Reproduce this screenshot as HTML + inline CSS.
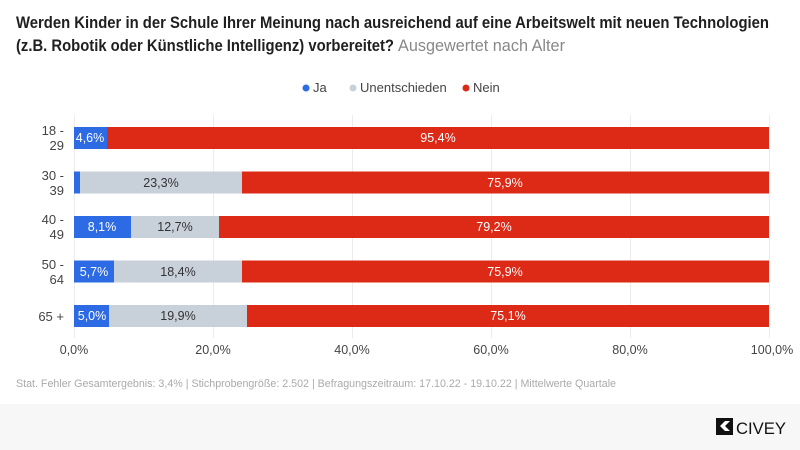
<!DOCTYPE html>
<html><head><meta charset="utf-8"><style>
body{margin:0;background:#fff}
svg{display:block;font-family:"Liberation Sans",sans-serif}
</style></head><body>
<svg width="800" height="450" xmlns="http://www.w3.org/2000/svg">
<rect width="800" height="450" fill="#fff"/>
<rect x="0" y="404" width="800" height="46" fill="#f7f7f7"/>
<text x="16" y="28" font-size="17" font-weight="bold" fill="#1f1f1f" textLength="753" lengthAdjust="spacingAndGlyphs">Werden Kinder in der Schule Ihrer Meinung nach ausreichend auf eine Arbeitswelt mit neuen Technologien</text>
<text x="16" y="51" font-size="17" fill="#1f1f1f"><tspan font-weight="bold" textLength="378" lengthAdjust="spacingAndGlyphs">(z.B. Robotik oder Künstliche Intelligenz) vorbereitet?</tspan><tspan x="398" fill="#888" textLength="167" lengthAdjust="spacingAndGlyphs">Ausgewertet nach Alter</tspan></text>
<g font-size="13" fill="#444">
<circle cx="306" cy="88" r="3.5" fill="#2d6be4"/><text x="313" y="92">Ja</text>
<circle cx="353" cy="88" r="3.5" fill="#c8d0da"/><text x="360" y="92">Unentschieden</text>
<circle cx="466" cy="88" r="3.5" fill="#dc2a17"/><text x="473" y="92">Nein</text>
</g>
<g stroke="#ececec" stroke-width="1">
<line x1="74.5" y1="115" x2="74.5" y2="338"/><line x1="213.5" y1="115" x2="213.5" y2="338"/><line x1="352.5" y1="115" x2="352.5" y2="338"/><line x1="491.5" y1="115" x2="491.5" y2="338"/><line x1="630.5" y1="115" x2="630.5" y2="338"/><line x1="769.5" y1="115" x2="769.5" y2="338"/>
</g>
<g font-size="12.5">
<rect x="74" y="127" width="33" height="22" fill="#2d6be4"/><rect x="107" y="127" width="662" height="22" fill="#dc2a17"/>
<text x="90" y="142" fill="#fff" text-anchor="middle">4,6%</text><text x="438" y="142" fill="#fff" text-anchor="middle">95,4%</text>
<rect x="74" y="171.5" width="6" height="22" fill="#2d6be4"/><rect x="80" y="171.5" width="162" height="22" fill="#c8d0da"/><rect x="242" y="171.5" width="527" height="22" fill="#dc2a17"/>
<text x="161" y="187" fill="#333" text-anchor="middle">23,3%</text><text x="505" y="187" fill="#fff" text-anchor="middle">75,9%</text>
<rect x="74" y="216" width="57" height="22" fill="#2d6be4"/><rect x="131" y="216" width="88" height="22" fill="#c8d0da"/><rect x="219" y="216" width="550" height="22" fill="#dc2a17"/>
<text x="102" y="231" fill="#fff" text-anchor="middle">8,1%</text><text x="175" y="231" fill="#333" text-anchor="middle">12,7%</text><text x="494" y="231" fill="#fff" text-anchor="middle">79,2%</text>
<rect x="74" y="260.5" width="40" height="22" fill="#2d6be4"/><rect x="114" y="260.5" width="128" height="22" fill="#c8d0da"/><rect x="242" y="260.5" width="527" height="22" fill="#dc2a17"/>
<text x="94" y="276" fill="#fff" text-anchor="middle">5,7%</text><text x="178" y="276" fill="#333" text-anchor="middle">18,4%</text><text x="505" y="276" fill="#fff" text-anchor="middle">75,9%</text>
<rect x="74" y="305" width="35" height="22" fill="#2d6be4"/><rect x="109" y="305" width="138" height="22" fill="#c8d0da"/><rect x="247" y="305" width="522" height="22" fill="#dc2a17"/>
<text x="92" y="320" fill="#fff" text-anchor="middle">5,0%</text><text x="178" y="320" fill="#333" text-anchor="middle">19,9%</text><text x="508" y="320" fill="#fff" text-anchor="middle">75,1%</text>
</g>
<g font-size="13" fill="#444" text-anchor="end">
<text x="64" y="135">18 -</text><text x="64" y="150">29</text>
<text x="64" y="180">30 -</text><text x="64" y="195">39</text>
<text x="64" y="224">40 -</text><text x="64" y="239">49</text>
<text x="64" y="269">50 -</text><text x="64" y="284">64</text>
<text x="64" y="321">65 +</text>
</g>
<g font-size="12.5" fill="#444" text-anchor="middle">
<text x="74" y="354">0,0%</text><text x="213" y="354">20,0%</text><text x="352" y="354">40,0%</text><text x="491" y="354">60,0%</text><text x="630" y="354">80,0%</text><text x="772" y="354">100,0%</text>
</g>
<text x="16" y="387" font-size="11" fill="#aaa" textLength="600" lengthAdjust="spacingAndGlyphs">Stat. Fehler Gesamtergebnis: 3,4% | Stichprobengröße: 2.502 | Befragungszeitraum: 17.10.22 - 19.10.22 | Mittelwerte Quartale</text>
<rect x="716" y="418" width="17" height="17" fill="#111"/>
<path d="M720 426 l5 -5 h5 l-5 5 l5 5 h-5z" fill="#fff"/>
<text x="736" y="434" font-size="17" fill="#111" textLength="50" lengthAdjust="spacingAndGlyphs">CIVEY</text>
</svg>
</body></html>
